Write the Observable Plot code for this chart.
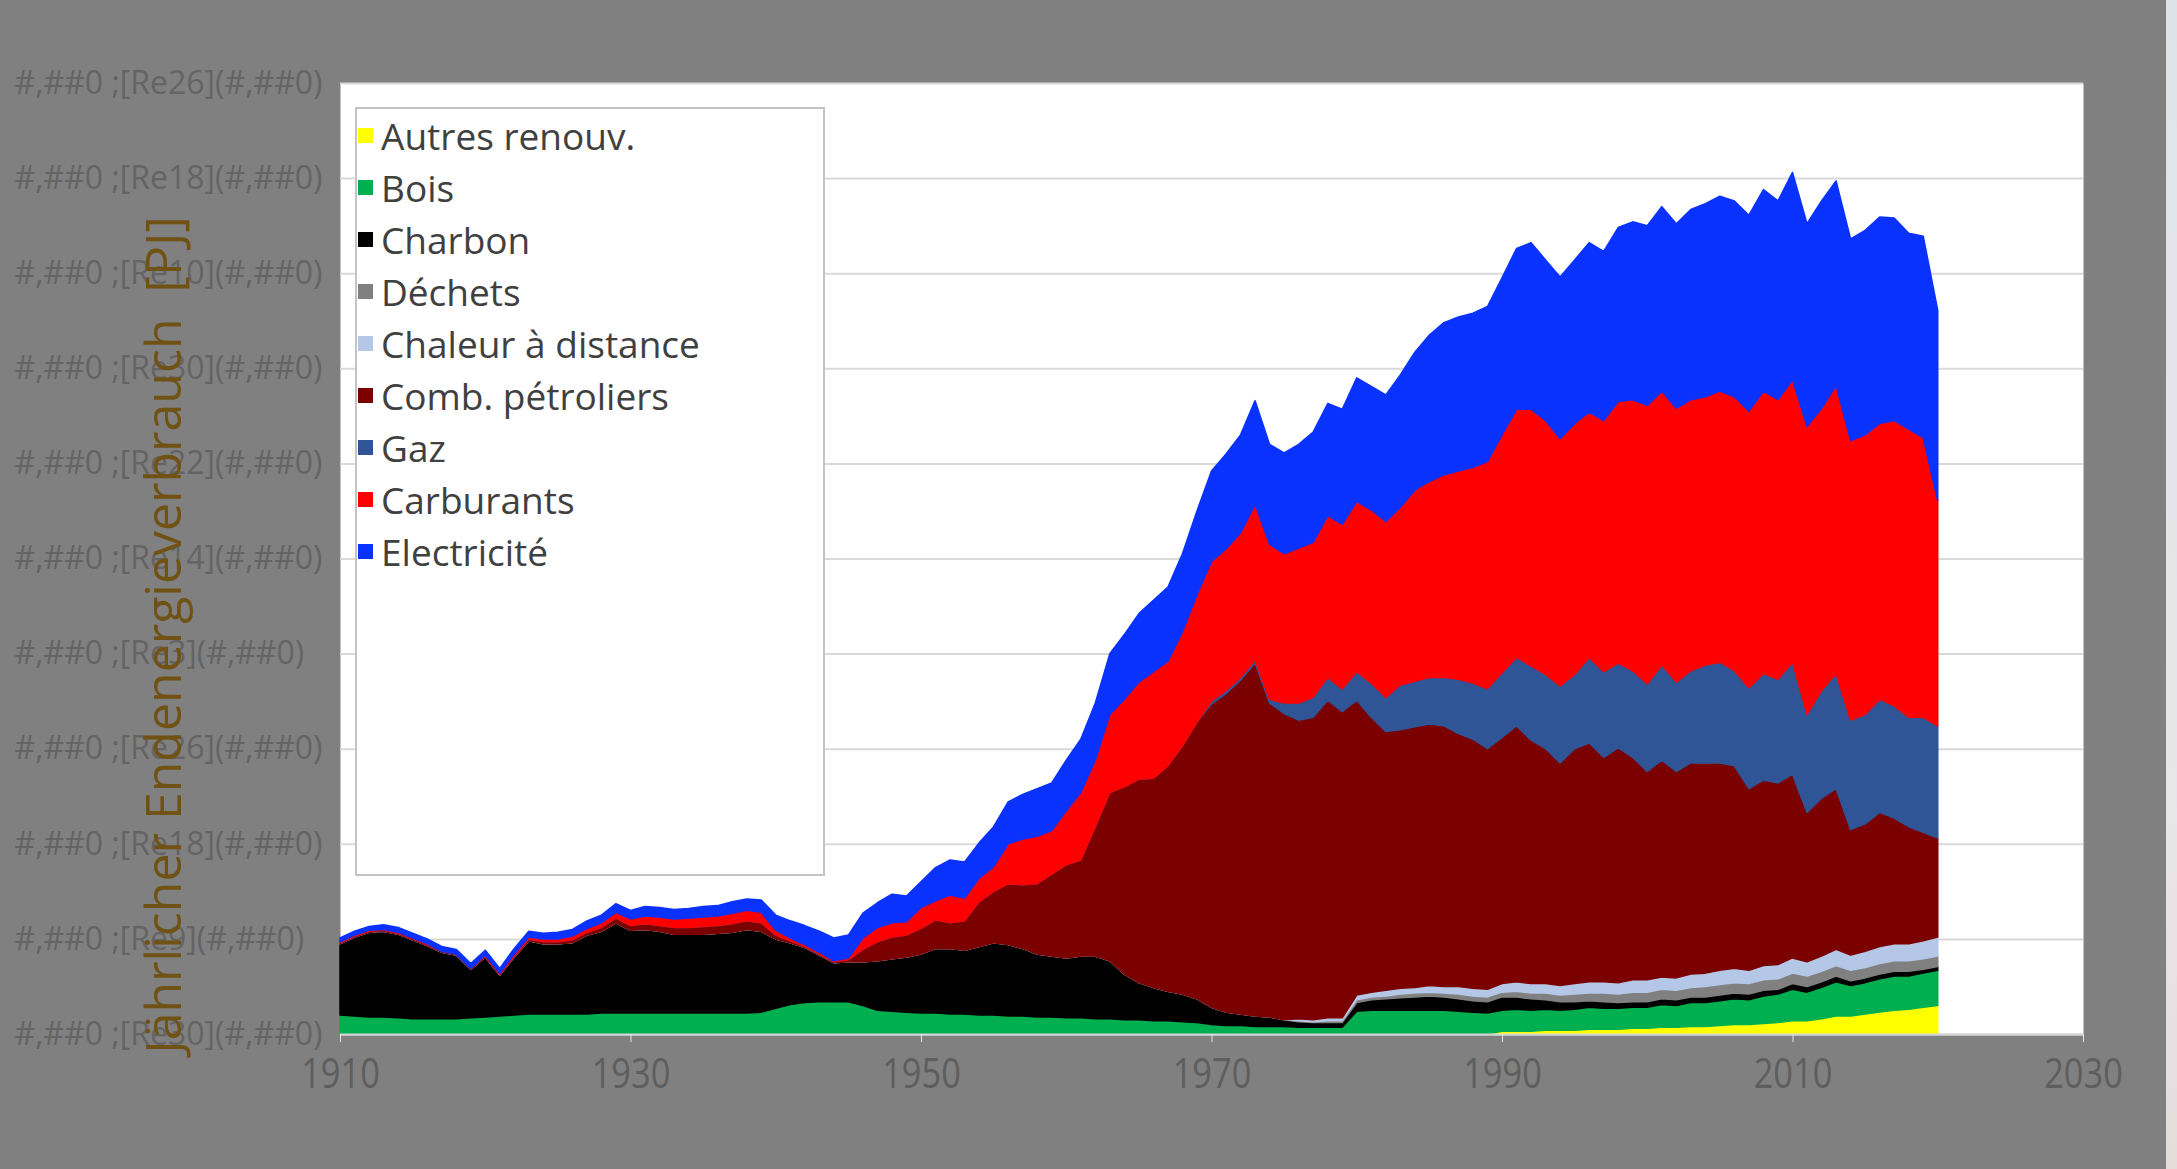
<!DOCTYPE html>
<html><head><meta charset="utf-8">
<script src="https://cdn.jsdelivr.net/npm/d3@7"></script>
<script src="https://cdn.jsdelivr.net/npm/@observablehq/plot@0.6"></script>
<style>
html,body{margin:0;padding:0;background:#808080;width:2177px;height:1169px;overflow:hidden;}
#wrap{position:relative;width:2177px;height:1169px;}
#wrap svg{position:absolute;left:0;top:0;}
#legend{position:absolute;left:355px;top:107px;width:470px;height:769px;box-sizing:border-box;background:#fff;border:2px solid #c4c4c4;font-family:"Open Sans";font-size:37px;color:#404040;}
.item{position:absolute;left:0;height:50px;display:flex;align-items:center;white-space:nowrap;}
.sw{width:15px;height:15px;margin-left:1px;margin-right:8px;}
#edge{position:absolute;left:2166px;top:0;width:11px;height:1169px;background:linear-gradient(#dfe3e8,#e8e6e8 70%,#e6dcdc);}
</style></head><body><div id="wrap"></div>
<script>
const firstYear = 1910, lastYear = 2020;
const seriesNames = ["Autres renouv.","Bois","Charbon","Déchets","Chaleur à distance","Comb. pétroliers","Gaz","Carburants","Electricité"];
const seriesColors = ["#ffff00","#00b050","#000000","#808080","#b4c7e7","#7b0000","#2f5597","#ff0000","#0a32ff"];
const xTicks = [1910,1930,1950,1970,1990,2010,2030];
const yTicks = [0,100,200,300,400,500,600,700,800,900,1000];
const yTickLabels = ["#,##0 ;[Re30](#,##0)","#,##0 ;[Re9](#,##0)","#,##0 ;[Re18](#,##0)","#,##0 ;[Re26](#,##0)","#,##0 ;[Re3](#,##0)","#,##0 ;[Re14](#,##0)","#,##0 ;[Re22](#,##0)","#,##0 ;[Re30](#,##0)","#,##0 ;[Re10](#,##0)","#,##0 ;[Re18](#,##0)","#,##0 ;[Re26](#,##0)"];
const yTitle = "Jährlicher Endenergieverbrauch\u00a0 [PJ]";

// PJ per year, 1910..2020
const autresRenouv = [
0,0,0,0,0,0,0,0,0,0, 0,0,0,0,0,0,0,0,0,0, 0,0,0,0,0,0,0,0,0,0, 0,0,0,0,0,0,0,0,0,0,
0,0,0,0,0,0,0,0,0,0, 0,0,0,0,0,0,0,0,0,0, 0,0,0,0,0,0,0,0,0,0, 0,0,0,0,0,0,0,0,0,0,
3,3,3,4,4,4,5,5,5,6, 6,7,7,8,8,9,10,10,11,12, 14,14,16,19,19,21,23,25,26,28,30];
const bois = [
20,19,18,18,17,16,16,16,16,17, 18,19,20,21,21,21,21,21,22,22, 22,22,22,22,22,22,22,22,22,23,
27,31,33,34,34,34,30,25,24,23, 22,22,21,21,20,20,19,19,18,18, 17,17,16,16,15,15,14,14,13,12,
10,9,9,8,8,8,7,7,7,7, 24,25,25,25,25,25,25,24,23,22, 22,23,22,22,21,22,23,22,22,22,
22,24,23,25,25,26,27,26,29,30, 33,30,33,36,32,33,35,36,35,36,37];
const charbon = [
75,83,89,90,88,83,77,70,67,51, 63,43,61,77,74,74,75,83,86,95, 87,88,86,83,83,83,84,85,88,85,
73,65,58,49,41,42,46,52,55,58, 62,68,69,67,72,76,75,71,66,64, 63,65,66,61,48,39,35,31,29,25,
18,14,12,11,10,7,6,5,5,5, 9,11,12,13,14,15,14,13,12,12, 14,13,12,10,9,8,7,7,6,6,
6,6,6,6,6,6,6,6,6,5, 6,6,6,6,5,5,5,5,5,4,4];
const dechets = [
0,0,0,0,0,0,0,0,0,0, 0,0,0,0,0,0,0,0,0,0, 0,0,0,0,0,0,0,0,0,0, 0,0,0,0,0,0,0,0,0,0,
0,0,0,0,0,0,0,0,0,0, 0,0,0,0,0,0,0,0,0,0, 0,0,0,0,0,0,1,1,2,2,
3,3,3,4,4,4,4,5,5,5, 5,6,6,7,7,8,8,9,9,10, 10,10,10,10,11,11,11,11,11,11,
11,11,11,11,11,11,11,11,11,11,11];
const chaleur = [
0,0,0,0,0,0,0,0,0,0, 0,0,0,0,0,0,0,0,0,0, 0,0,0,0,0,0,0,0,0,0, 0,0,0,0,0,0,0,0,0,0,
0,0,0,0,0,0,0,0,0,0, 0,0,0,0,0,0,0,0,0,0, 0,0,0,0,0,0,2,2,3,3,
5,5,6,6,6,7,7,8,8,8, 9,10,10,10,10,11,12,12,12,13, 13,13,13,14,14,15,15,14,15,15,
16,15,16,17,16,17,18,18,18,19,20];
const combPetroliers = [
1,1,1,1,1,1,1,1,1,1, 1,1,1,2,2,2,3,3,4,5, 5,6,6,7,7,8,8,9,9,9,
4,2,1,1,1,2,13,20,23,23, 27,30,27,31,47,54,64,67,74,86, 98,101,136,177,197,214,220,237,261,291,
319,335,351,371,330,322,314,318,334,322, 310,289,272,272,274,275,274,266,262,253,
259,269,256,247,234,247,251,236,247,234, 219,228,217,222,221,218,213,191,195,191,
193,157,166,169,132,134,141,132,123,114,104];
const gaz = [
0,0,0,0,0,0,0,0,0,0, 0,0,0,0,0,0,0,0,0,0, 0,0,0,0,0,0,0,0,0,0, 0,0,0,0,0,0,0,0,0,0,
0,0,0,0,0,0,0,0,0,0, 0,0,0,0,0,0,0,0,0,0,
3,3,3,3,4,11,18,21,24,24, 30,36,36,47,48,49,51,57,59,63, 68,72,78,78,81,78,90,90,89,91,
92,100,94,97,103,106,100,106,112,109, 118,103,113,121,115,115,119,118,115,121,118];
const carburants = [
1,1,1,1,1,1,1,0,0,0, 1,1,2,2,3,3,4,4,5,6, 7,8,9,9,10,10,10,11,11,11,
5,3,2,2,1,2,12,15,15,14, 22,20,29,24,25,26,42,48,50,46, 57,71,70,82,92,102,112,110,120,134,
147,149,152,164,163,157,163,163,170,173, 179,182,185,187,201,206,213,219,227,239,
250,261,270,267,260,264,258,264,275,285, 293,288,288,285,282,285,288,291,297,294,
297,303,297,303,294,294,290,300,303,294,237];
const electricite = [
4,4,4,5,5,5,5,5,5,5, 5,5,6,6,6,7,7,8,8,9, 9,10,10,10,10,11,11,12,12,13,
16,18,20,22,24,24,26,26,30,27, 27,35,37,38,37,42,44,47,50,50, 53,56,60,64,68,72,75,78,82,88,
95,100,103,109,105,106,109,116,118,121, 130,130,133,139,145,154,160,162,162,163,
165,169,175,169,170,172,178,178,183,187, 189,194,194,200,203,205,206,206,212,209,
218,213,218,215,212,215,217,213,206,212,200];

const seriesValues = [autresRenouv,bois,charbon,dechets,chaleur,combPetroliers,gaz,carburants,electricite];
const rows = [];
seriesNames.forEach((name, s) => {
  seriesValues[s].forEach((v, i) => rows.push({year: firstYear + i, series: name, value: v}));
});

const chart = Plot.plot({
  width: 2177, height: 1169,
  marginLeft: 340, marginRight: 94, marginTop: 83, marginBottom: 135,
  style: {background: "transparent", fontFamily: "Open Sans", overflow: "visible"},
  x: {domain: [1910, 2030]},
  y: {domain: [0, 1000]},
  color: {domain: seriesNames, range: seriesColors},
  marks: [
    Plot.frame({fill: "white", stroke: null}),
    Plot.gridY(yTicks, {stroke: "#d9d9d9", strokeOpacity: 1, strokeWidth: 2}),
    Plot.areaY(rows, Plot.stackY({x: "year", y: "value", z: "series", fill: "series", stroke: "series", strokeWidth: 1.5, order: seriesNames})),
    Plot.ruleY([0], {stroke: "#d4d4d4", strokeWidth: 2}),
    Plot.axisX(xTicks, {tickSize: 8, tickPadding: 16, color: "#5e5e5e", stroke: "#e6e6e6", fill: "#5e5e5e", fontSize: 42, tickFormat: d => String(d), label: null}),
    Plot.axisY(yTicks, {tickSize: 0, tickPadding: 0, textAnchor: "start", dx: -326, color: "#646464", fill: "#646464", fontSize: 32, tickFormat: d => yTickLabels[Math.round(d / 100)], label: null}),
    Plot.text([yTitle], {frameAnchor: "left", textAnchor: "middle", rotate: -90, dx: -176, dy: 76, fontSize: 50, fontWeight: 500, fill: "#6f5214"})
  ]
});

// condensed x tick labels
chart.querySelectorAll('g[aria-label="x-axis tick label"] text').forEach(t => {
  const tr = t.getAttribute("transform");
  if (tr) t.setAttribute("transform", tr + " scale(0.82,1)");
  else {
    const x = +t.getAttribute("x") || 0, y = +t.getAttribute("y") || 0;
    t.removeAttribute("x"); t.removeAttribute("y");
    t.setAttribute("transform", `translate(${x},${y}) scale(0.82,1)`);
  }
});

const wrap = document.getElementById("wrap");
wrap.appendChild(chart);

const legend = document.createElement("div");
legend.id = "legend";
seriesNames.forEach((name, i) => {
  const it = document.createElement("div");
  it.className = "item";
  it.style.top = (1 + 52 * i) + "px";
  const sw = document.createElement("span");
  sw.className = "sw";
  sw.style.background = seriesColors[i];
  const tx = document.createElement("span");
  tx.textContent = name;
  it.appendChild(sw); it.appendChild(tx);
  legend.appendChild(it);
});
wrap.appendChild(legend);
const edge = document.createElement("div");
edge.id = "edge";
wrap.appendChild(edge);
</script></body></html>
